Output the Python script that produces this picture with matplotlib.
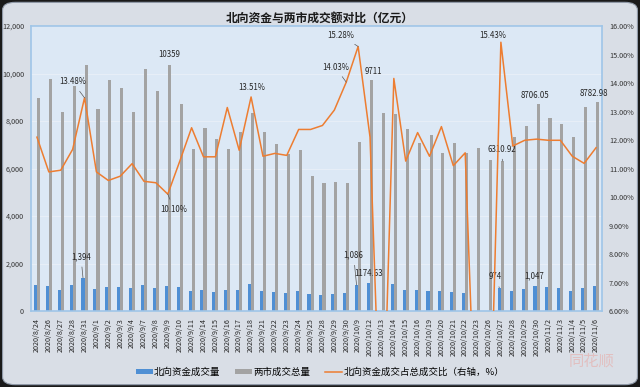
import numpy as np
import matplotlib
matplotlib.use("Agg")
import matplotlib.pyplot as plt
from matplotlib.patches import FancyBboxPatch
from matplotlib.ticker import FuncFormatter

plt.rcParams["font.family"] = ["Noto Sans CJK SC", "DejaVu Sans"]
plt.rcParams["axes.unicode_minus"] = False

dates = ["2020/8/24", "2020/8/26", "2020/8/27", "2020/8/28", "2020/8/31",
         "2020/9/1", "2020/9/2", "2020/9/3", "2020/9/4", "2020/9/7",
         "2020/9/8", "2020/9/9", "2020/9/10", "2020/9/11", "2020/9/14",
         "2020/9/15", "2020/9/16", "2020/9/17", "2020/9/18", "2020/9/21",
         "2020/9/22", "2020/9/23", "2020/9/24", "2020/9/25", "2020/9/28",
         "2020/9/29", "2020/9/30", "2020/10/9", "2020/10/12", "2020/10/13",
         "2020/10/14", "2020/10/15", "2020/10/16", "2020/10/19", "2020/10/20",
         "2020/10/21", "2020/10/22", "2020/10/23", "2020/10/26", "2020/10/27",
         "2020/10/28", "2020/10/29", "2020/10/30", "2020/11/2", "2020/11/3",
         "2020/11/4", "2020/11/5", "2020/11/6"]

# 北向资金成交量 (亿元)
north = [1086, 1070, 904, 1115, 1394, 930, 1030, 1016, 960, 1086,
         975, 1045, 990, 862, 875, 820, 890, 875, 1128, 862,
         805, 760, 850, 705, 693, 717, 760, 1086, 1174.63, 0,
         1157, 875, 875, 862, 850, 805, 777, 0, 0, 974,
         850, 930, 1047, 990, 960, 850, 975, 1040]

# 两市成交总量 (亿元)
total = [8975, 9777, 8383, 9465, 10339, 8510, 9706, 9410, 8390, 10200,
         9254, 10359, 8734, 6832, 7707, 7242, 6832, 7538, 8354, 7538,
         7031, 6592, 6790, 5704, 5408, 5451, 5408, 7115, 9711, 8354,
         8298, 7677, 7086, 7394, 6662, 7056, 6634, 6862, 6338, 6310.92,
         7339, 7804, 8706.05, 8128, 7861, 7310, 8593, 8782.98]

# 北向资金成交占总成交比 (%)
ratio = [12.10, 10.88, 10.94, 11.67, 13.48, 10.88, 10.58, 10.73, 11.17, 10.55,
         10.50, 10.10, 11.25, 12.43, 11.41, 11.41, 13.14, 11.64, 13.51, 11.43,
         11.53, 11.46, 12.37, 12.37, 12.51, 13.05, 14.03, 15.28, 12.10, 0,
         14.16, 11.26, 12.26, 11.43, 12.47, 11.10, 11.55, 0, 0, 15.43,
         11.79, 11.99, 12.03, 11.99, 11.99, 11.43, 11.18, 11.73]

# (类别序号, 系列, 文本, dx, dy, 引线)
notes = [
    (4, "ratio", "13.48%", -12, 16, True),
    (11, "total", "10359", 0, 10, False),
    (18, "ratio", "13.51%", 1, 9, False),
    (11, "ratio", "10.10%", 6, -15, True),
    (4, "north", "1,394", -2, 21, True),
    (27, "ratio", "15.28%", -17, 11, True),
    (26, "ratio", "14.03%", -11, 15, True),
    (28, "total", "9711", 2, 9, False),
    (39, "ratio", "15.43%", -8, 7, False),
    (42, "total", "8706.05", -3, 9, False),
    (47, "total", "8782.98", -4, 9, False),
    (39, "total", "6310.92", -1, 12, True),
    (27, "north", "1,086", -3, 30, True),
    (28, "north", "1174.63", 0, 10, False),
    (39, "north", "974", -4, 11, True),
    (42, "north", "1,047", -1, 10, False),
]

BLUE = "#4f8fd4"
GRAY = "#a3a3a3"
ORANGE = "#ed7d31"

W, H = 640, 387
fig = plt.figure(figsize=(W / 100, H / 100), dpi=100, facecolor="#1a1a1a")
bg = FancyBboxPatch((0.004, 0.006), 0.992, 0.988,
                    boxstyle="round,pad=0,rounding_size=0.02",
                    transform=fig.transFigure, facecolor="#d9dee6",
                    edgecolor="#8f99a8", lw=0.8, zorder=-10)
fig.patches.append(bg)

ax = fig.add_axes([31 / W, 1 - 311 / H, 571 / W, 285 / H])
ax.set_facecolor("#dce8f5")
for sp in ax.spines.values():
    sp.set_color("#9fc5e8")
    sp.set_linewidth(1.2)

x = np.arange(len(dates))
bw = 0.26
ax.bar(x - bw / 2, north, bw, color=BLUE, label="北向资金成交量", zorder=2)
ax.bar(x + bw / 2, total, bw, color=GRAY, label="两市成交总量", zorder=2)
ax.set_xlim(-0.5, len(dates) - 0.5)
ax.set_ylim(0, 12000)
ax.set_yticks(np.arange(0, 12001, 2000))
ax.yaxis.set_major_formatter(FuncFormatter(lambda v, p: f"{int(v):,}"))
ax.yaxis.grid(True, color="#eaf0f8", lw=0.6, zorder=0)
ax.set_axisbelow(True)
ax.set_xticks(x)
ax.set_xticklabels(dates, rotation=90, fontsize=5.2, color="#262626")
ax.tick_params(axis="x", length=0, pad=5)
ax.tick_params(axis="y", length=0, pad=5, labelsize=5.2, labelcolor="#333333")

ax2 = ax.twinx()
ax2.plot(x, np.array(ratio) / 100, color=ORANGE, lw=1.1,
         label="北向资金成交占总成交比（右轴，%）", zorder=3)
ax2.set_ylim(0.06, 0.16)
ax2.set_yticks(np.arange(0.06, 0.1601, 0.01))
ax2.yaxis.set_major_formatter(FuncFormatter(lambda v, p: f"{v * 100:.2f}%"))
ax2.tick_params(axis="y", length=0, pad=5, labelsize=5.2, labelcolor="#333333")
for sp in ax2.spines.values():
    sp.set_visible(False)

series = {"north": (ax, x - bw / 2, north),
          "total": (ax, x + bw / 2, total),
          "ratio": (ax2, x, np.array(ratio) / 100)}
for i, key, txt, dx, dy, lead in notes:
    a, xs, ys = series[key]
    a.annotate(txt, (xs[i], ys[i]), xytext=(dx, dy), textcoords="offset pixels",
               ha="center", va="center", fontsize=5.7, color="#262626",
               arrowprops=dict(arrowstyle="-", color="#595959", lw=0.5,
                               shrinkA=2, shrinkB=0) if lead else None,
               zorder=5)

fig.text(0.5, 1 - 18 / H, "北向资金与两市成交额对比（亿元）", ha="center",
         va="center", fontsize=8.5, fontweight="bold", color="#1a1a1a")

h1, l1 = ax.get_legend_handles_labels()
h2, l2 = ax2.get_legend_handles_labels()
fig.legend(h1 + h2, l1 + l2, loc="center", bbox_to_anchor=(0.5, 1 - 372 / H),
           ncol=3, frameon=False, fontsize=6.8, handlelength=1.8,
           handleheight=0.5, columnspacing=1.6, handletextpad=0.1)

fig.text(0.925, 1 - 361 / H, "同花顺", ha="center", va="center", fontsize=11,
         style="italic", color="#e3bcbc", alpha=0.9)

fig.savefig("out.png", dpi=100, facecolor=fig.get_facecolor())
